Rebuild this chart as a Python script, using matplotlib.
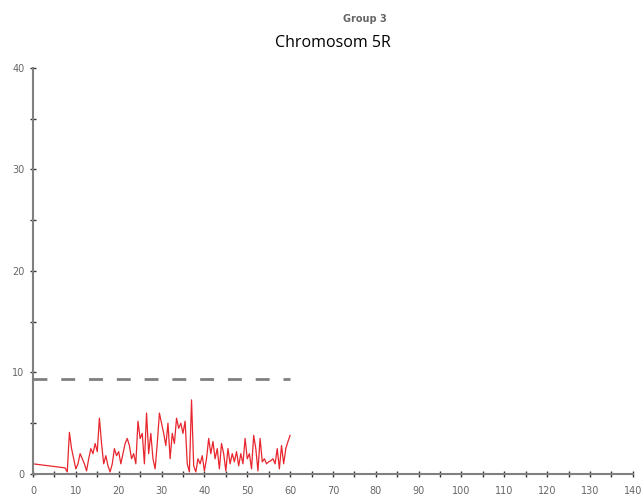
import numpy as np
import matplotlib.pyplot as plt
from matplotlib.ticker import MultipleLocator

# position (cM) and score
pos = [0, 7.5, 8, 8.5, 9, 9.5, 10, 10.5, 11, 11.5, 12, 12.5, 13, 13.5, 14, 14.5,
       15, 15.5, 16, 16.5, 17, 17.5, 18, 18.5, 19, 19.5, 20, 20.5, 21, 21.5, 22,
       22.5, 23, 23.5, 24, 24.5, 25, 25.5, 26, 26.5, 27, 27.5, 28, 28.5, 29, 29.5,
       30, 30.5, 31, 31.5, 32, 32.5, 33, 33.5, 34, 34.5, 35, 35.5, 36, 36.5, 37,
       37.5, 38, 38.5, 39, 39.5, 40, 40.5, 41, 41.5, 42, 42.5, 43, 43.5, 44, 44.5,
       45, 45.5, 46, 46.5, 47, 47.5, 48, 48.5, 49, 49.5, 50, 50.5, 51, 51.5, 52,
       52.5, 53, 53.5, 54, 54.5, 55, 55.5, 56, 56.5, 57, 57.5, 58, 58.5, 59, 59.5, 60]
score = [1.0, 0.6, 0.2, 4.1, 2.5, 1.5, 0.5, 1.0, 2.0, 1.5, 1.0, 0.3, 1.5, 2.5, 2.0, 3.0,
         2.2, 5.5, 3.0, 1.0, 1.8, 0.8, 0.2, 1.0, 2.5, 1.8, 2.2, 1.0, 2.0, 3.0, 3.5,
         2.8, 1.5, 2.0, 1.0, 5.2, 3.5, 4.0, 1.0, 6.0, 2.0, 4.0, 1.5, 0.5, 3.0, 6.0,
         5.0, 4.0, 2.8, 5.0, 1.5, 4.0, 3.0, 5.5, 4.5, 5.0, 4.0, 5.2, 1.0, 0.2, 7.3,
         0.8, 0.2, 1.5, 1.0, 1.8, 0.3, 1.5, 3.5, 2.0, 3.2, 1.5, 2.5, 0.5, 3.0, 2.0,
         0.3, 2.5, 1.0, 2.0, 1.2, 2.2, 0.8, 2.0, 1.0, 3.5, 1.5, 2.0, 0.5, 3.8, 2.5,
         0.3, 3.5, 1.2, 1.5, 1.0, 1.2, 1.3, 1.5, 1.0, 2.5, 0.5, 2.8, 1.0, 2.5, 3.2, 3.8]
thresh_x = [0, 60]
thresh_y = [9.36, 9.36]

fig = plt.figure(figsize=(6.43, 5.03), dpi=100)
ax = fig.add_axes([0.0513, 0.0577, 0.933, 0.8073])

ax.plot(thresh_x, thresh_y, color='#808080', lw=2, linestyle=(0, (5, 5)))
ax.plot(pos, score, color='#e8262e', lw=0.9)

ax.set_xlim(0, 140)
ax.set_ylim(0, 40)
ax.xaxis.set_major_locator(MultipleLocator(10))
ax.xaxis.set_minor_locator(MultipleLocator(5))
ax.yaxis.set_major_locator(MultipleLocator(10))
ax.yaxis.set_minor_locator(MultipleLocator(5))
ax.tick_params(which='both', direction='inout', color='#333333', width=1,
               labelsize=7, labelcolor='#666666')
ax.tick_params(which='major', length=5)
ax.tick_params(which='minor', length=4)
ax.tick_params(axis='x', pad=6)

for s in ['top', 'right']:
    ax.spines[s].set_visible(False)
for s in ['left', 'bottom']:
    ax.spines[s].set_color('#808080')
    ax.spines[s].set_linewidth(1.5)

fig.text(0.567, 0.962, 'Group 3', ha='center', va='center', fontsize=7,
         fontweight='bold', color='#666666')
fig.text(0.518, 0.915, 'Chromosom 5R', ha='center', va='center', fontsize=11.5,
         family='Open Sans', color='black')

fig.savefig('out.png', dpi=100)
